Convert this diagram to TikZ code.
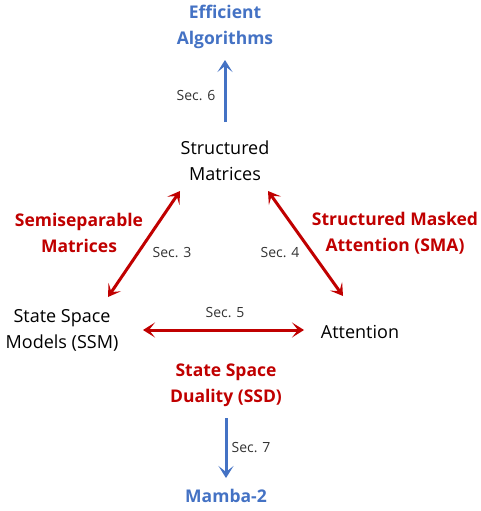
\documentclass[tikz,border=0pt]{standalone}
\usepackage{fontspec}
\setmainfont{Open Sans}
\usetikzlibrary{arrows.meta,positioning}
\definecolor{ssdred}{RGB}{192,0,0}
\definecolor{algblue}{RGB}{68,114,196}

\begin{document}
\begin{tikzpicture}[
  x=1pt, y=-1pt,
  font=\fontsize{18}{26}\selectfont,
  topic/.style={align=center, inner sep=0pt, text=black},
  redtopic/.style={align=center, inner sep=0pt, text=ssdred, font=\fontsize{17.5}{26}\selectfont\bfseries},
  bluetopic/.style={align=center, inner sep=0pt, text=algblue, font=\fontsize{17.5}{26}\selectfont\bfseries},
  secnote/.style={inner sep=0pt, text=black!80, font=\fontsize{14}{16}\selectfont},
  redarr/.style={{Stealth[length=12pt,width=15pt,inset=6pt]}-{Stealth[length=12pt,width=15pt,inset=6pt]}, line width=3pt, ssdred},
  bluearr/.style={-{Stealth[length=12pt,width=15pt,inset=6pt]}, line width=3pt, algblue}
]
  \useasboundingbox (0,0) rectangle (480,511);

  \node[bluetopic] (eff) at (225,27) {Efficient\\Algorithms};
  \node[topic] (sm) at (225,161) {Structured\\Matrices};
  \node[topic] (ssm) at (62,330) {State Space\\Models (SSM)};
  \node[topic] (att) at (360,332) {Attention};
  \node[redtopic] (ssd) at (226,385) {State Space\\Duality (SSD)};
  \node[bluetopic] (mamba) at (226,496) {Mamba-2};

  \node[redtopic] (semi) at (79,233) {Semiseparable\\Matrices};
  \node[redtopic] (sma) at (395,233) {Structured Masked\\Attention (SMA)};

  \node[secnote] (sec6) at (196,96) {Sec. 6};
  \node[secnote] (sec3) at (172,253) {Sec. 3};
  \node[secnote] (sec4) at (280,253) {Sec. 4};
  \node[secnote] (sec5) at (225,313) {Sec. 5};
  \node[secnote] (sec7) at (251,448) {Sec. 7};

  \draw[bluearr] ([shift={(0,-39)}]sm.center) -- ([shift={(0,33)}]eff.center);
  \draw[redarr] ([shift={(46,-33)}]ssm.center) -- ([shift={(-45,30)}]sm.center);
  \draw[redarr] ([shift={(43,30)}]sm.center) -- ([shift={(-17,-36)}]att.center);
  \draw[redarr] ([shift={(81,0)}]ssm.center) -- ([shift={(-56,-2)}]att.center);
  \draw[bluearr] ([shift={(0,33)}]ssd.center) -- ([shift={(0,-18)}]mamba.center);
\end{tikzpicture}
\end{document}
